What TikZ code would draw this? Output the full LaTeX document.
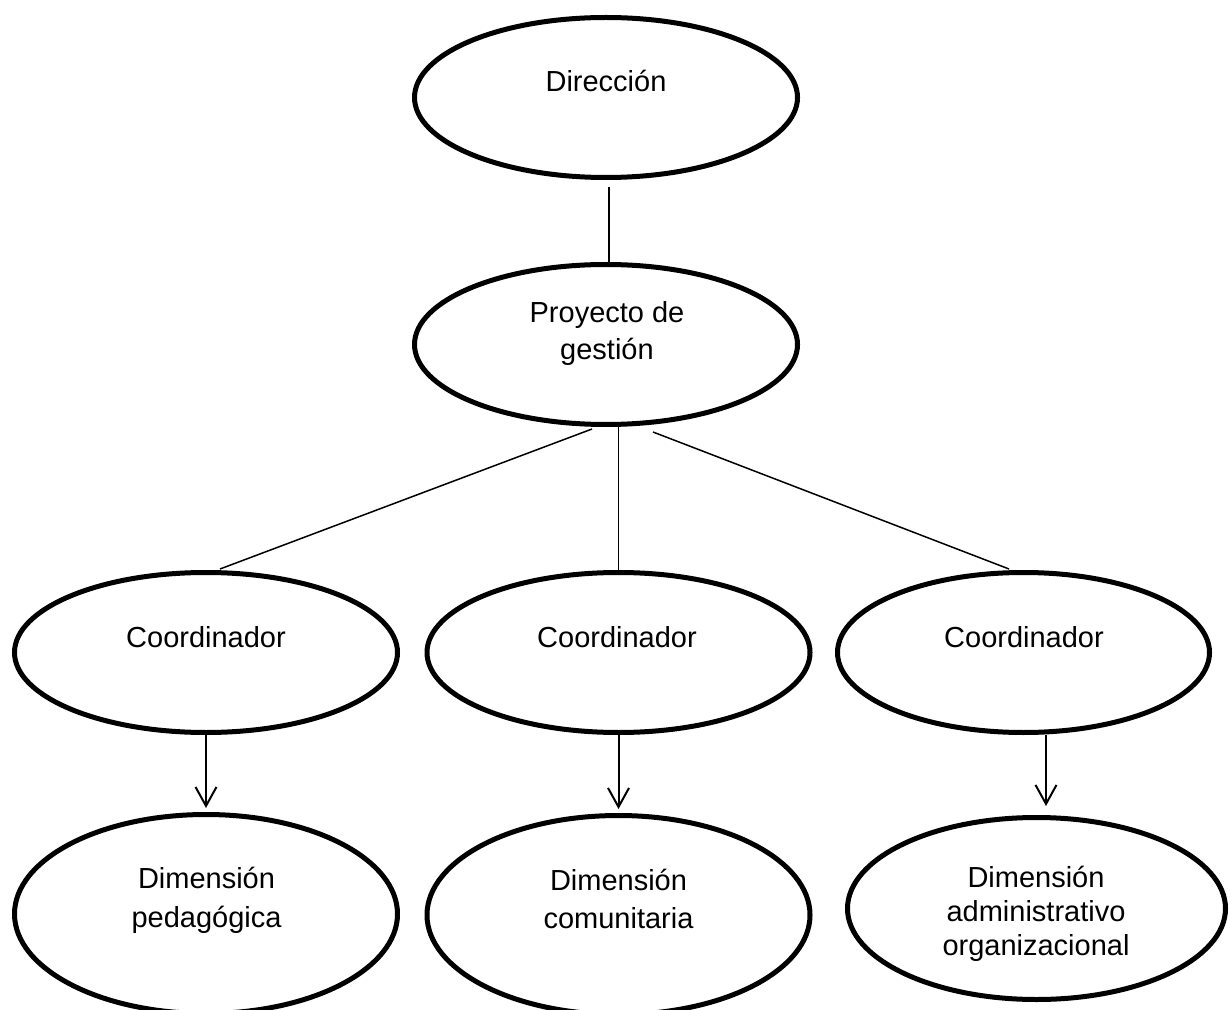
\documentclass[tikz,border=0pt]{standalone}
\usepackage{fontspec}
\setmainfont{Liberation Sans}
\usetikzlibrary{shapes.geometric,arrows.meta,calc}

\tikzset{
  bubble/.style={draw=black, line width=2.5pt, ellipse, inner sep=0pt,
    minimum width=191.5pt, minimum height=80pt},
  % anchor=base sits on the baseline of the last line
  label text/.style={anchor=base, align=center, inner sep=0pt,
    font=\fontsize{14.5pt}{18.5pt}\selectfont},
  link/.style={draw=black, line width=0.75pt},
  down arrow/.style={draw=black, line width=1pt,
    -{Straight Barb[length=9.5pt,width=10.5pt,line width=1pt]}},
}

\begin{document}
\begin{tikzpicture}[x=0.5pt, y=-0.5pt]
  \useasboundingbox (0,0) rectangle (1231,1010);

  % ellipses
  \node[bubble] (dir)  at (606,97.5) {};
  \node[bubble] (proj) at (606,344.5) {};
  \node[bubble] (c1) at (206,652.5) {};
  \node[bubble] (c2) at (618.5,652.5) {};
  \node[bubble, minimum width=186pt] (c3) at (1023.5,652.5) {};
  \node[bubble, minimum height=99.5pt] (d1) at (206,914) {};
  \node[bubble, minimum height=99.5pt] (d2) at (618.5,915) {};
  \node[bubble, minimum width=189pt, minimum height=91pt] (d3) at (1036.5,908.5) {};

  % labels
  \node[label text] (dir-t) at (606,92) {Dirección};
  \node[label text] (proj-t) at (607,360) {Proyecto de\\gestión};
  \node[label text] (c1-t) at (206,647) {Coordinador};
  \node[label text] (c2-t) at (617,647) {Coordinador};
  \node[label text] (c3-t) at (1024,647) {Coordinador};
  \node[label text, font=\fontsize{14.5pt}{19.25pt}\selectfont] (d1-t) at (206.5,927) {Dimensión\\pedagógica};
  \node[label text, font=\fontsize{14.5pt}{19pt}\selectfont] (d2-t) at (618.5,928) {Dimensión\\comunitaria};
  \node[label text, font=\fontsize{14.5pt}{17pt}\selectfont] (d3-t) at (1036,955) {Dimensión\\administrativo\\organizacional};

  % plain connectors
  \draw[link] ($(dir.south)+(3,7)$) -- ($(proj.north)+(3,0)$);
  \draw[link] ($(proj.south)+(-14,2)$) -- ($(c1.north)+(14,-1)$);
  \draw[link] (c2.north |- proj.south) -- (c2.north);
  \draw[link] ($(proj.south)+(47,5)$) -- ($(c3.north)+(-14.5,-1)$);

  % arrows to the dimensions
  \draw[down arrow, shorten >=2pt] (c1) -- (d1);
  \draw[down arrow, shorten >=2pt] (c2) -- (d2);
  \draw[down arrow] ($(c3.south)+(22.5,0)$) -- ($(d3.north)+(9.5,-9)$);
\end{tikzpicture}
\end{document}
